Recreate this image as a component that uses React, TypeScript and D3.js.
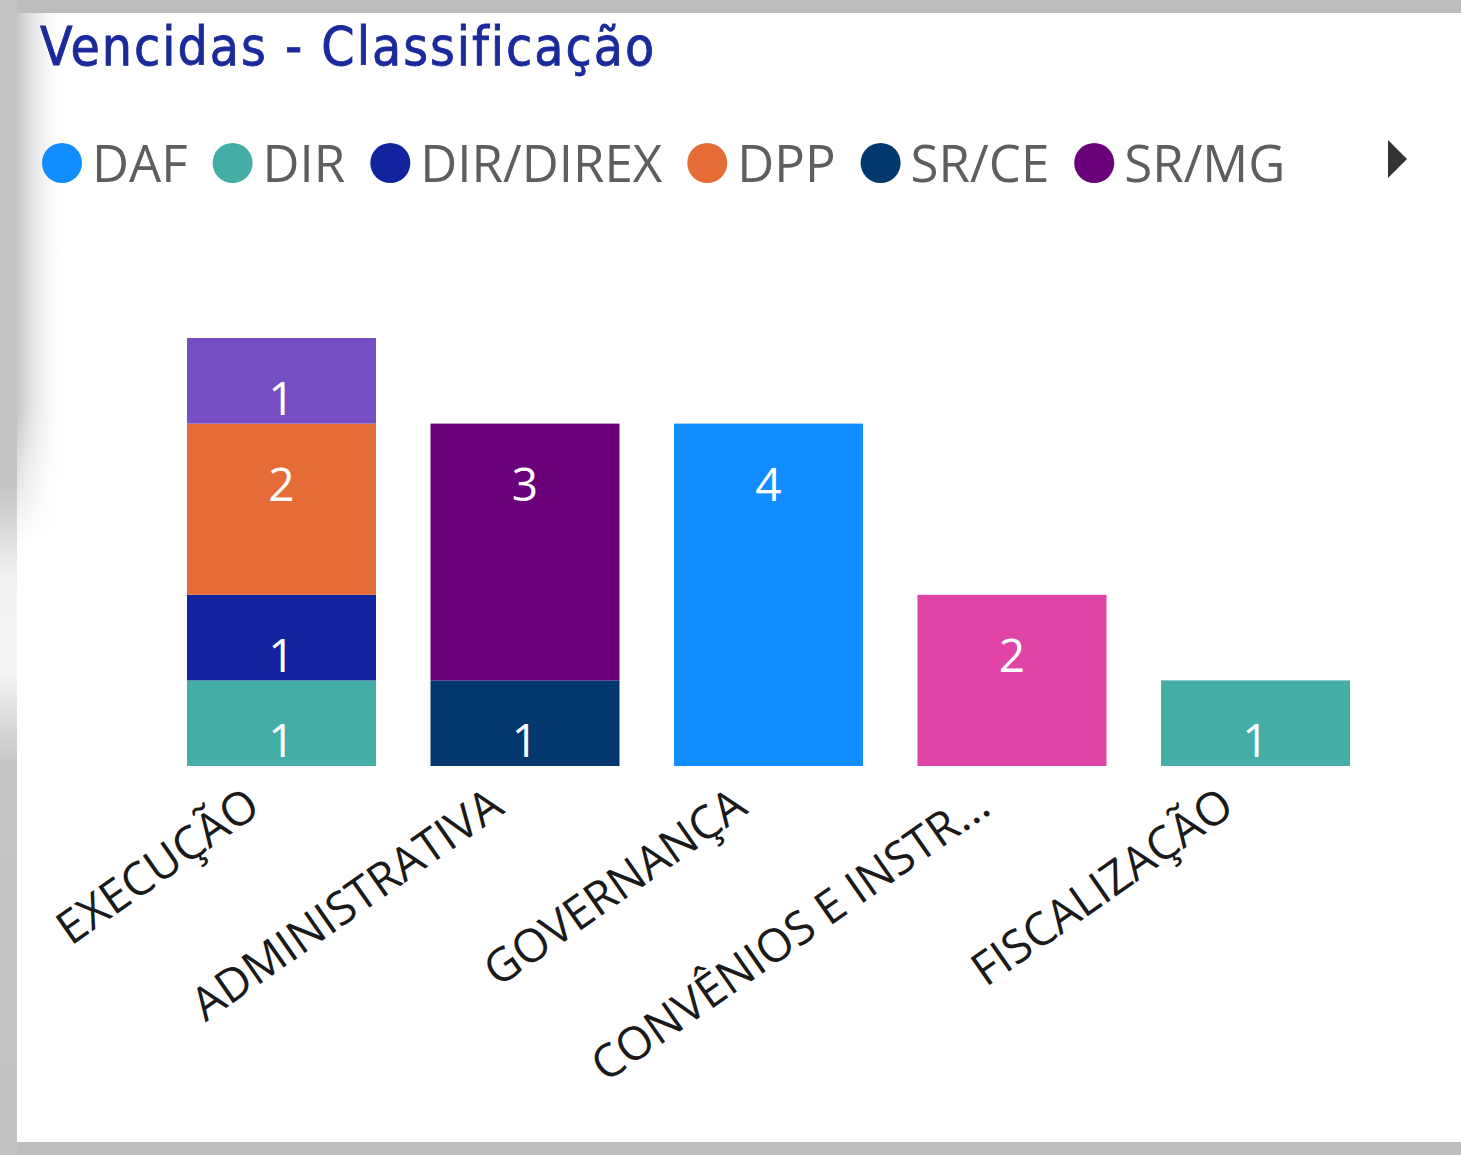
import React from "react";
import * as d3 from "d3";

const title = "Vencidas - Classificação";
const categories = ["EXECUÇÃO", "ADMINISTRATIVA", "GOVERNANÇA", "CONVÊNIOS E INSTRUMENTOS", "FISCALIZAÇÃO"];
const seriesNames = ["DAF", "DIR", "DIR/DIREX", "DPP", "SR/CE", "SR/MG", "SR/PE", "SR/RS"];
const seriesColors = ["#118DFF", "#44ADA5", "#12239E", "#E66C37", "#03386F", "#6B007B", "#E044A7", "#744EC2"];
const valDAF = [0, 0, 4, 0, 0];
const valDIR = [1, 0, 0, 0, 1];
const valDIRDIREX = [1, 0, 0, 0, 0];
const valDPP = [2, 0, 0, 0, 0];
const valSRCE = [0, 1, 0, 0, 0];
const valSRMG = [0, 3, 0, 0, 0];
const valSRPE = [0, 0, 0, 2, 0];
const valSRRS = [1, 0, 0, 0, 0];
const seriesValues = [valDAF, valDIR, valDIRDIREX, valDPP, valSRCE, valSRMG, valSRPE, valSRRS];

const W = 1461;
const H = 1155;
const FONT = "'Segoe UI', 'Open Sans', sans-serif";
const TITLE_FONT = "'DejaVu Sans Condensed', 'DejaVu Sans', sans-serif";

function truncate(s: string, n: number) {
  return s.length > n ? s.slice(0, n) + "..." : s;
}

let ctx: CanvasRenderingContext2D | null = null;
function textWidth(t: string, font: string) {
  if (!ctx) ctx = document.createElement("canvas").getContext("2d");
  if (!ctx) return t.length * 30;
  ctx.font = font;
  return ctx.measureText(t).width;
}

export default function App() {
  const rows = categories.map((c, i) => {
    const r: any = { cat: c };
    seriesNames.forEach((s, j) => (r[s] = seriesValues[j][i]));
    return r;
  });
  const stacked = d3.stack<any>().keys(seriesNames)(rows);

  const step = 243.5;
  const pInner = 54.5 / step;
  const x0 = 187 - (pInner / 2) * step;
  const x = d3
    .scaleBand<string>()
    .domain(categories)
    .range([x0, x0 + step * categories.length])
    .paddingInner(pInner)
    .paddingOuter(pInner / 2);
  const y = d3.scaleLinear().domain([0, 5]).range([766, 338]);

  // legend layout
  const legendFontSize = 51;
  const legendFont = `${legendFontSize}px 'Segoe UI', 'Open Sans', sans-serif`;
  const legendItems: { name: string; color: string; cx: number; tx: number }[] = [];
  let lx = 42;
  const legendMax = 1370;
  for (let i = 0; i < seriesNames.length; i++) {
    const tw = textWidth(seriesNames[i], legendFont);
    const end = lx + 40 + 10 + tw;
    if (end > legendMax) break;
    legendItems.push({ name: seriesNames[i], color: seriesColors[i], cx: lx + 20, tx: lx + 50 });
    lx = end + 25;
  }

  const angle = -35;

  return (
    <svg
      width={W}
      height={H}
      style={{ position: "absolute", left: 0, top: 0, display: "block" }}
    >
      <defs>
        <linearGradient id="leftShade" x1="0" x2="1" y1="0" y2="0">
          <stop offset="0" stopColor="#c6c6c6" stopOpacity="1" />
          <stop offset="1" stopColor="#ffffff" stopOpacity="0" />
        </linearGradient>
        <linearGradient id="leftFade" x1="0" x2="0" y1="0" y2="1">
          <stop offset="0" stopColor="#fff" stopOpacity="1" />
          <stop offset="0.75" stopColor="#fff" stopOpacity="1" />
          <stop offset="1" stopColor="#fff" stopOpacity="0" />
        </linearGradient>
        <mask id="leftMask">
          <rect x={17} y={13} width={50} height={530} fill="url(#leftFade)" />
        </mask>
        <linearGradient id="stripGrad" x1="0" x2="0" y1="0" y2="1">
          <stop offset="0" stopColor="#c4c4c4" />
          <stop offset="0.42" stopColor="#c4c4c4" />
          <stop offset="0.5" stopColor="#f2f2f2" />
          <stop offset="0.58" stopColor="#f6f6f6" />
          <stop offset="0.66" stopColor="#c6c6c6" />
          <stop offset="1" stopColor="#c2c2c2" />
        </linearGradient>
      </defs>
      <rect x={0} y={0} width={W} height={H} fill="#bdbdbd" />
      <rect x={0} y={0} width={17} height={H} fill="url(#stripGrad)" />
      <rect x={17} y={13} width={W - 17} height={1142 - 13} fill="#ffffff" />
      <rect x={17} y={13} width={50} height={530} fill="url(#leftShade)" mask="url(#leftMask)" />

      <text
        x={40}
        y={65}
        fill="#1B2A9B"
        stroke="#1B2A9B"
        strokeWidth={0.8}
        fontFamily={TITLE_FONT}
        fontSize={53}
        letterSpacing={2}
        style={{ fontStretch: "condensed" }}
      >
        {title}
      </text>

      <g>
        {legendItems.map((it) => (
          <g key={it.name}>
            <circle cx={it.cx} cy={163} r={20} fill={it.color} />
            <text x={it.tx} y={182} fill="#605E5C" fontFamily={FONT} fontSize={legendFontSize}>
              {it.name}
            </text>
          </g>
        ))}
        <path d="M1388,140 L1407,159 L1388,178 Z" fill="#333333" />
      </g>

      <g>
        {stacked.map((layer, si) => (
          <g key={seriesNames[si]} fill={seriesColors[si]}>
            {layer.map((d, ci) =>
              d[1] - d[0] > 0 ? (
                <rect
                  key={ci}
                  x={x(categories[ci])}
                  y={y(d[1])}
                  width={x.bandwidth()}
                  height={y(d[0]) - y(d[1])}
                />
              ) : null
            )}
          </g>
        ))}
        {stacked.map((layer, si) =>
          layer.map((d, ci) =>
            d[1] - d[0] > 0 ? (
              <text
                key={`${si}-${ci}`}
                x={(x(categories[ci]) as number) + x.bandwidth() / 2}
                y={y(d[1]) + 77}
                textAnchor="middle"
                fill="#ffffff"
                fontFamily={FONT}
                fontSize={46}
              >
                {d[1] - d[0]}
              </text>
            ) : null
          )
        )}
      </g>

      <g>
        {categories.map((c) => {
          const ax = (x(c) as number) + x.bandwidth() / 2 - 19;
          const ay = 812;
          return (
            <text
              key={c}
              transform={`translate(${ax},${ay}) rotate(${angle})`}
              textAnchor="end"
              fill="#1a1a1a"
              fontFamily={FONT}
              fontSize={46}
            >
              {truncate(c, 17)}
            </text>
          );
        })}
      </g>
    </svg>
  );
}
